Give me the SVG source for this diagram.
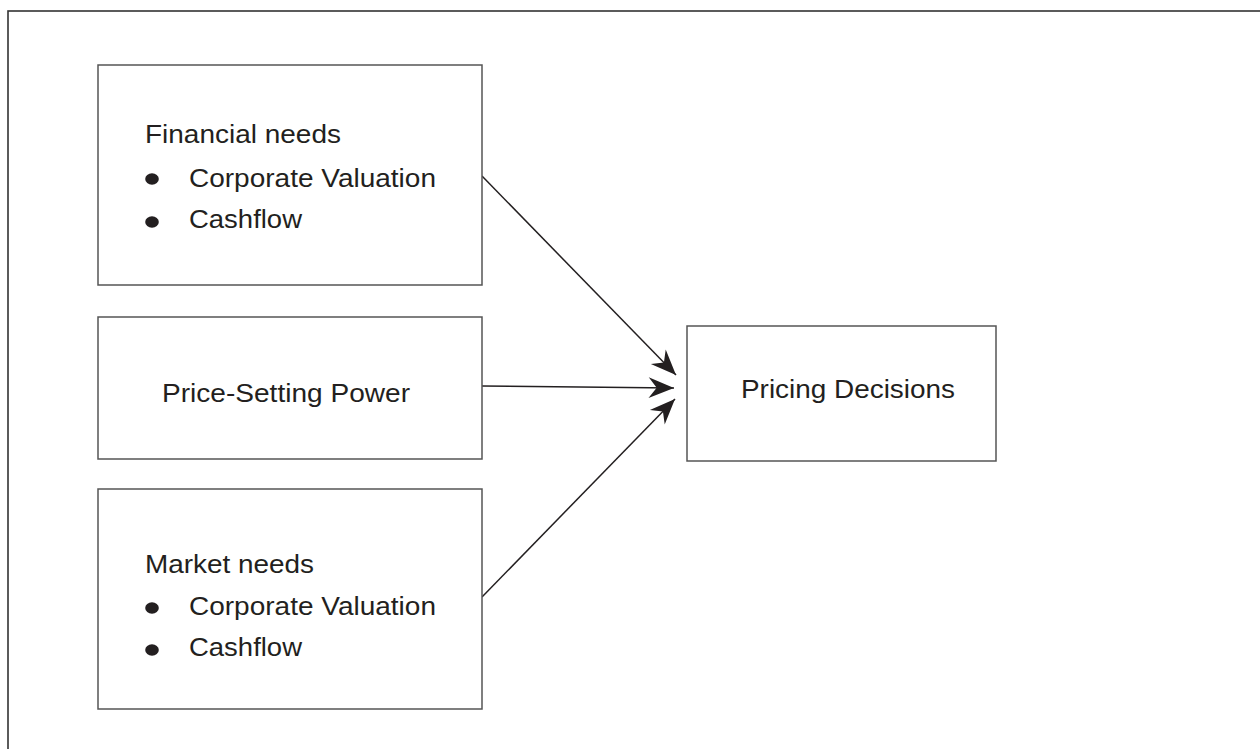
<svg xmlns="http://www.w3.org/2000/svg" width="1260" height="749" viewBox="0 0 1260 749">
<style>
.box{fill:#fff;stroke:#555;stroke-width:1.5}
.t{font-family:"Liberation Sans",Arial,sans-serif;font-size:25px;fill:#231f20}
.c{fill:none;stroke:#231f20;stroke-width:1.5}
.b{fill:#231f20}
</style>
<defs>
<marker id="ah" markerUnits="userSpaceOnUse" markerWidth="30" markerHeight="30" viewBox="-24 -12 26 24" refX="0" refY="0" orient="auto">
<path d="M0,0 L-22,-9 L-15,0 L-22,9 Z" fill="#231f20"/>
</marker>
</defs>
<rect x="0" y="0" width="1260" height="749" fill="#fff"/>
<rect x="8" y="11" width="1400" height="900" fill="none" stroke="#333" stroke-width="1.6"/>
<g id="connectors">
<line class="c" x1="482" y1="176" x2="676" y2="375" marker-end="url(#ah)"/>
<line class="c" x1="482" y1="386" x2="674" y2="388" marker-end="url(#ah)"/>
<line class="c" x1="482" y1="597" x2="675" y2="399" marker-end="url(#ah)"/>
</g>
<g id="financial">
<rect class="box" x="98" y="65" width="384" height="220"/>
<text class="t" x="145" y="143" textLength="196" lengthAdjust="spacingAndGlyphs">Financial needs</text>
<ellipse class="b" cx="152" cy="179" rx="6.8" ry="5.8"/>
<text class="t" x="189" y="187" textLength="247" lengthAdjust="spacingAndGlyphs">Corporate Valuation</text>
<ellipse class="b" cx="152" cy="222" rx="6.8" ry="5.8"/>
<text class="t" x="189" y="228" textLength="113" lengthAdjust="spacingAndGlyphs">Cashflow</text>
</g>
<g id="power">
<rect class="box" x="98" y="317" width="384" height="142"/>
<text class="t" x="162" y="402" textLength="248" lengthAdjust="spacingAndGlyphs">Price-Setting Power</text>
</g>
<g id="market">
<rect class="box" x="98" y="489" width="384" height="220"/>
<text class="t" x="145" y="573" textLength="169" lengthAdjust="spacingAndGlyphs">Market needs</text>
<ellipse class="b" cx="152" cy="608" rx="6.8" ry="5.8"/>
<text class="t" x="189" y="615" textLength="247" lengthAdjust="spacingAndGlyphs">Corporate Valuation</text>
<ellipse class="b" cx="152" cy="650" rx="6.8" ry="5.8"/>
<text class="t" x="189" y="656" textLength="113" lengthAdjust="spacingAndGlyphs">Cashflow</text>
</g>
<g id="pricing">
<rect class="box" x="687" y="326" width="309" height="135"/>
<text class="t" x="741" y="398" textLength="214" lengthAdjust="spacingAndGlyphs">Pricing Decisions</text>
</g>
</svg>
